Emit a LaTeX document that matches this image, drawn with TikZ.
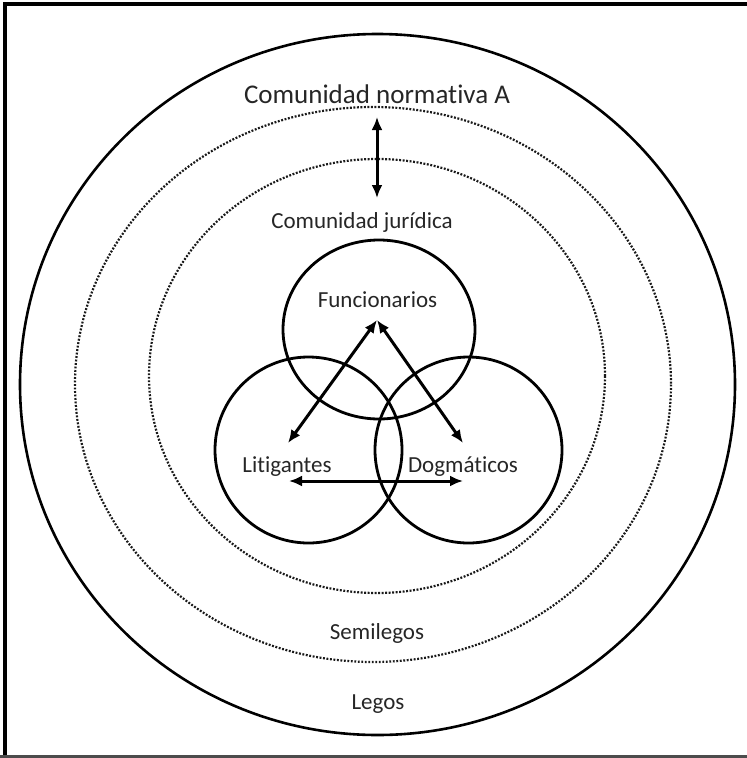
\documentclass[tikz,border=0pt]{standalone}
\usepackage{fontspec}
\setmainfont{Carlito}[Ligatures={NoCommon}]
\usetikzlibrary{arrows.meta}

\begin{document}
\begin{tikzpicture}[x=1pt,y=-1pt,
	ring/.style={line width=2.6pt},
	ringdots/.style={line width=2.2pt,dash pattern=on 1.9pt off 1.6pt,black!90},
	group/.style={line width=2.8pt},
	link/.style={{Latex[length=13pt,width=11pt]}-{Latex[length=13pt,width=11pt]},line width=3pt},
	lbl/.style={anchor=base,inner sep=0pt,text=black!85,font=\fontsize{23}{27}\selectfont}]
	\useasboundingbox (0,0) rectangle (747,758);
	% frame
	\draw[line width=4pt] (5,758) -- (5,4) -- (747,4);
	\draw[line width=2.5pt,black!70] (0,756.5) -- (747,756.5);
	
	% communities
	\draw[ring] (377.5,384.5) ellipse [x radius=357.5,y radius=350.5];
	\draw[ringdots] (373,384.5) ellipse [x radius=298,y radius=277.5];
	\draw[ringdots] (377,376) ellipse [x radius=228,y radius=217];
	
	% legal actors
	\draw[group] (379,329.5) ellipse [x radius=96,y radius=89.5];
	\draw[group] (308.5,450) ellipse [x radius=93.5,y radius=93];
	\draw[group] (468.5,450) ellipse [x radius=93.5,y radius=93];
	
	\node[lbl,font=\fontsize{27}{31}\selectfont] (norm) at (377,103) {Comunidad normativa A};
	\node[lbl] (jur) at (362,228) {Comunidad jurídica};
	\node[lbl] (func) at (377.5,307) {Funcionarios};
	\node[lbl] (lit) at (287,472) {Litigantes};
	\node[lbl] (dog) at (463,472) {Dogmáticos};
	\node[lbl] (semi) at (377,639) {Semilegos};
	\node[lbl] (legos) at (378,709) {Legos};
	
	\coordinate (top) at (377,117);
	\coordinate (bottom) at (377,198);
	\coordinate (apex) at (377,320);
	\coordinate (litend) at (288,443);
	\coordinate (dogend) at (463,443);
	\coordinate (litbase) at (289,481);
	\coordinate (dogbase) at (463,481);
	
	\draw[link] (top) -- (bottom);
	\draw[link] (apex) -- (litend);
	\draw[link] (apex) -- (dogend);
	\draw[link] (litbase) -- (dogbase);
\end{tikzpicture}
\end{document}
